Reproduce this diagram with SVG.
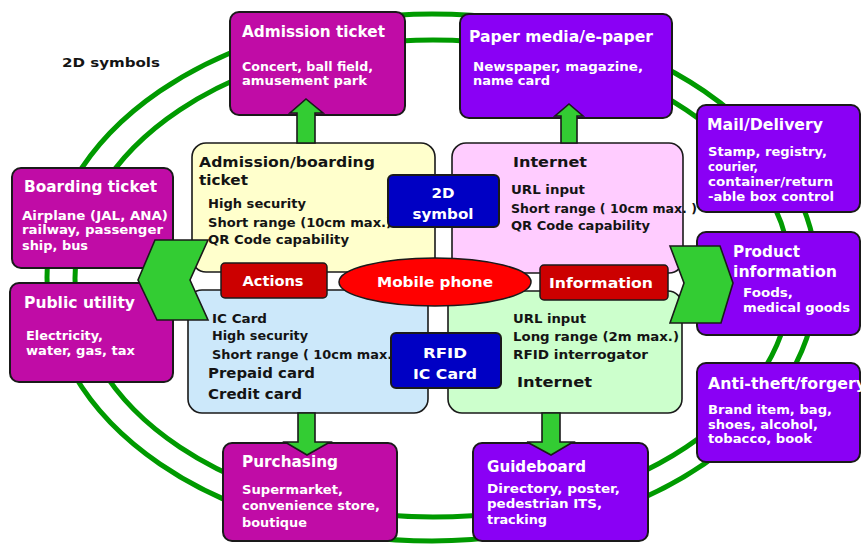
<svg xmlns="http://www.w3.org/2000/svg" width="862" height="544" viewBox="0 0 862 544">
<style>
.ring{fill:none;stroke:#009a00;stroke-width:5}
.mag{fill:#c00ca6;stroke:#1a1a1a;stroke-width:2}
.pur{fill:#8a00f5;stroke:#1a1a1a;stroke-width:2}
.quad{stroke:#1a1a1a;stroke-width:1.6}
.blk{fill:#0000c4;stroke:#1a1a1a;stroke-width:2}
.red{fill:#cc0000;stroke:#1a1a1a;stroke-width:1.5}
.arr{fill:#33cc33;stroke:#1a1a1a;stroke-width:1.6;stroke-linejoin:miter}
text{font-family:"DejaVu Sans",Verdana,sans-serif;font-weight:bold}
.w{fill:#ffffff}
.d{fill:#141414}
.tt{font-size:15px}
.ts{font-size:11.5px}
.q{font-size:12.5px}
.qh{font-size:14px}
.c{font-size:14px}
</style>

<g id="rings">
<ellipse class="ring" cx="432" cy="277.5" rx="385" ry="263.5"/>
<ellipse class="ring" cx="433" cy="278.5" rx="358" ry="238.5"/>
</g>

<text class="d" x="62" y="67" font-size="13" textLength="98" lengthAdjust="spacingAndGlyphs">2D symbols</text>

<g id="admission-ticket">
<rect class="mag" x="230" y="12" width="175" height="103" rx="9"/>
<text class="w tt" x="242" y="37" textLength="143" lengthAdjust="spacingAndGlyphs">Admission ticket</text>
<text class="w ts" x="242" y="71" textLength="131" lengthAdjust="spacingAndGlyphs">Concert, ball field,</text>
<text class="w ts" x="242" y="85" textLength="125" lengthAdjust="spacingAndGlyphs">amusement park</text>
</g>

<g id="paper-media">
<rect class="pur" x="460" y="14" width="212" height="104" rx="9"/>
<text class="w tt" x="469" y="42" textLength="184" lengthAdjust="spacingAndGlyphs">Paper media/e-paper</text>
<text class="w ts" x="473" y="71" textLength="170" lengthAdjust="spacingAndGlyphs">Newspaper, magazine,</text>
<text class="w ts" x="473" y="85" textLength="77" lengthAdjust="spacingAndGlyphs">name card</text>
</g>

<g id="mail-delivery">
<rect class="pur" x="697" y="105" width="163" height="107" rx="9"/>
<text class="w tt" x="707" y="130" textLength="116" lengthAdjust="spacingAndGlyphs">Mail/Delivery</text>
<text class="w ts" x="708" y="156" textLength="119" lengthAdjust="spacingAndGlyphs">Stamp, registry,</text>
<text class="w ts" x="708" y="171" textLength="50" lengthAdjust="spacingAndGlyphs">courier,</text>
<text class="w ts" x="708" y="186" textLength="125" lengthAdjust="spacingAndGlyphs">container/return</text>
<text class="w ts" x="708" y="201" textLength="126" lengthAdjust="spacingAndGlyphs">-able box control</text>
</g>

<g id="product-information">
<rect class="pur" x="697" y="232" width="163" height="103" rx="9"/>
<text class="w tt" x="733" y="257" textLength="67" lengthAdjust="spacingAndGlyphs">Product</text>
<text class="w tt" x="733" y="277" textLength="104" lengthAdjust="spacingAndGlyphs">information</text>
<text class="w ts" x="743" y="297" textLength="50" lengthAdjust="spacingAndGlyphs">Foods,</text>
<text class="w ts" x="743" y="312" textLength="107" lengthAdjust="spacingAndGlyphs">medical goods</text>
</g>

<g id="anti-theft">
<rect class="pur" x="697" y="363" width="163" height="99" rx="9"/>
<text class="w tt" x="708" y="389" textLength="158" lengthAdjust="spacingAndGlyphs">Anti-theft/forgery</text>
<text class="w ts" x="708" y="414" textLength="124" lengthAdjust="spacingAndGlyphs">Brand item, bag,</text>
<text class="w ts" x="708" y="429" textLength="110" lengthAdjust="spacingAndGlyphs">shoes, alcohol,</text>
<text class="w ts" x="708" y="443" textLength="104" lengthAdjust="spacingAndGlyphs">tobacco, book</text>
</g>

<g id="guideboard">
<rect class="pur" x="473" y="443" width="175" height="98" rx="9"/>
<text class="w tt" x="487" y="472" textLength="99" lengthAdjust="spacingAndGlyphs">Guideboard</text>
<text class="w ts" x="487" y="493" textLength="133" lengthAdjust="spacingAndGlyphs">Directory, poster,</text>
<text class="w ts" x="487" y="508" textLength="115" lengthAdjust="spacingAndGlyphs">pedestrian ITS,</text>
<text class="w ts" x="487" y="524" textLength="60" lengthAdjust="spacingAndGlyphs">tracking</text>
</g>

<g id="purchasing">
<rect class="mag" x="223" y="443" width="174" height="98" rx="9"/>
<text class="w tt" x="242" y="467" textLength="96" lengthAdjust="spacingAndGlyphs">Purchasing</text>
<text class="w ts" x="242" y="494" textLength="101" lengthAdjust="spacingAndGlyphs">Supermarket,</text>
<text class="w ts" x="242" y="510" textLength="138" lengthAdjust="spacingAndGlyphs">convenience store,</text>
<text class="w ts" x="242" y="527" textLength="65" lengthAdjust="spacingAndGlyphs">boutique</text>
</g>

<g id="public-utility">
<rect class="mag" x="10" y="283" width="163" height="99" rx="9"/>
<text class="w tt" x="24" y="308" textLength="111" lengthAdjust="spacingAndGlyphs">Public utility</text>
<text class="w ts" x="26" y="340" textLength="77" lengthAdjust="spacingAndGlyphs">Electricity,</text>
<text class="w ts" x="26" y="355" textLength="109" lengthAdjust="spacingAndGlyphs">water, gas, tax</text>
</g>

<g id="boarding-ticket">
<rect class="mag" x="12" y="168" width="161" height="100" rx="9"/>
<text class="w tt" x="24" y="192" textLength="133" lengthAdjust="spacingAndGlyphs">Boarding ticket</text>
<text class="w ts" x="22" y="220" textLength="146" lengthAdjust="spacingAndGlyphs">Airplane (JAL, ANA)</text>
<text class="w ts" x="22" y="234" textLength="141" lengthAdjust="spacingAndGlyphs">railway, passenger</text>
<text class="w ts" x="22" y="250" textLength="66" lengthAdjust="spacingAndGlyphs">ship, bus</text>
</g>

<g id="quad-admission-boarding">
<rect class="quad" x="192" y="143" width="243" height="129" rx="14" fill="#ffffcc"/>
<text class="d qh" x="199" y="167" textLength="176" lengthAdjust="spacingAndGlyphs">Admission/boarding</text>
<text class="d qh" x="199" y="185" textLength="49" lengthAdjust="spacingAndGlyphs">ticket</text>
<text class="d q" x="208" y="208" textLength="98" lengthAdjust="spacingAndGlyphs">High security</text>
<text class="d q" x="208" y="227" textLength="184" lengthAdjust="spacingAndGlyphs">Short range (10cm max.)</text>
<text class="d q" x="208" y="244" textLength="141" lengthAdjust="spacingAndGlyphs">QR Code capability</text>
</g>

<g id="quad-internet-2d">
<rect class="quad" x="452" y="143" width="231" height="130" rx="14" fill="#ffccff"/>
<text class="d qh" x="513" y="167" textLength="74" lengthAdjust="spacingAndGlyphs">Internet</text>
<text class="d q" x="511" y="194" textLength="74" lengthAdjust="spacingAndGlyphs">URL input</text>
<text class="d q" x="511" y="213" textLength="186" lengthAdjust="spacingAndGlyphs">Short range ( 10cm max. )</text>
<text class="d q" x="511" y="230" textLength="139" lengthAdjust="spacingAndGlyphs">QR Code capability</text>
</g>

<g id="quad-ic-card">
<rect class="quad" x="188" y="290" width="240" height="123" rx="14" fill="#cce8fa"/>
<text class="d q" x="212" y="323" textLength="55" lengthAdjust="spacingAndGlyphs">IC Card</text>
<text class="d q" x="212" y="340" textLength="96" lengthAdjust="spacingAndGlyphs">High security</text>
<text class="d q" x="212" y="359" textLength="186" lengthAdjust="spacingAndGlyphs">Short range ( 10cm max.)</text>
<text class="d qh" x="208" y="378" textLength="107" lengthAdjust="spacingAndGlyphs">Prepaid card</text>
<text class="d qh" x="208" y="399" textLength="94" lengthAdjust="spacingAndGlyphs">Credit card</text>
</g>

<g id="quad-rfid-internet">
<rect class="quad" x="448" y="291" width="234" height="122" rx="14" fill="#ccffcc"/>
<text class="d q" x="513" y="323" textLength="73" lengthAdjust="spacingAndGlyphs">URL input</text>
<text class="d q" x="513" y="341" textLength="166" lengthAdjust="spacingAndGlyphs">Long range (2m max.)</text>
<text class="d q" x="513" y="359" textLength="135" lengthAdjust="spacingAndGlyphs">RFID interrogator</text>
<text class="d qh" x="517" y="387" textLength="75" lengthAdjust="spacingAndGlyphs">Internet</text>
</g>

<g id="connectors">
<path class="arr" d="M297,143 V113 H290 L306,99 L323,113 H315 V143 Z"/>
<path class="arr" d="M561,143 V116 H555 L569,104 L583,116 H577 V143 Z"/>
<path class="arr" d="M298,413 V442 H285 L307,455 L330,442 H315 V413 Z"/>
<path class="arr" d="M542,413 V442 H527 L551,455 L573,442 H560 V413 Z"/>
<path class="arr" d="M155,240 H208 L190,280 L208,320 H157 L138,280 Z"/>
<path class="arr" d="M670,246 H720 L733,283 L721,323 H670 L684,283 Z"/>
</g>

<g id="symbol-2d">
<rect class="blk" x="388" y="175" width="111" height="52" rx="5"/>
<text class="w c" x="443" y="198" text-anchor="middle" textLength="23" lengthAdjust="spacingAndGlyphs">2D</text>
<text class="w c" x="443" y="219" text-anchor="middle" textLength="61" lengthAdjust="spacingAndGlyphs">symbol</text>
</g>

<g id="rfid-ic-card">
<rect class="blk" x="391" y="333" width="110" height="55" rx="5"/>
<text class="w c" x="445" y="358" text-anchor="middle" textLength="44" lengthAdjust="spacingAndGlyphs">RFID</text>
<text class="w c" x="445" y="379" text-anchor="middle" textLength="64" lengthAdjust="spacingAndGlyphs">IC Card</text>
</g>

<g id="actions">
<rect class="red" x="221" y="263" width="106" height="35" rx="4"/>
<text class="w c" x="273" y="286" text-anchor="middle" textLength="61" lengthAdjust="spacingAndGlyphs">Actions</text>
</g>

<g id="information">
<rect class="red" x="540" y="265" width="128" height="35" rx="4"/>
<text class="w c" x="601" y="288" text-anchor="middle" textLength="104" lengthAdjust="spacingAndGlyphs">Information</text>
</g>

<g id="mobile-phone">
<ellipse cx="435" cy="282" rx="96" ry="24" fill="#ff0000" stroke="#1a1a1a" stroke-width="1.5"/>
<text class="w c" x="435" y="287" text-anchor="middle" textLength="116" lengthAdjust="spacingAndGlyphs">Mobile phone</text>
</g>
</svg>
